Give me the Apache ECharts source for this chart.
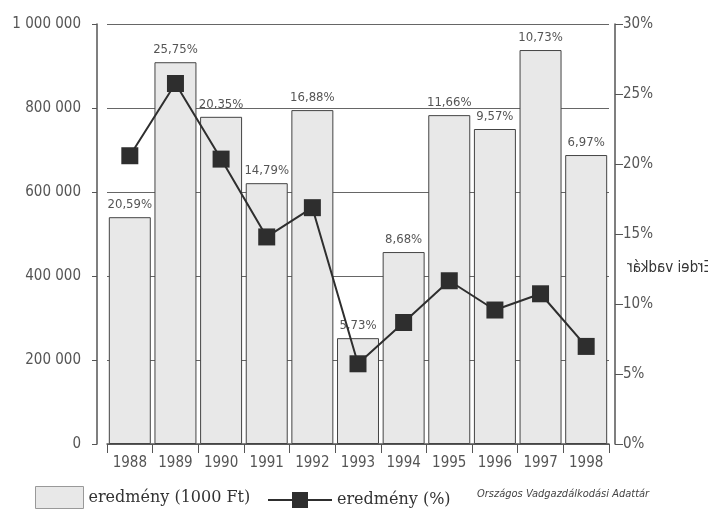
<!DOCTYPE html>
<html>
<head>
<meta charset="utf-8">
<script src="https://cdn.jsdelivr.net/npm/echarts@6/dist/echarts.min.js"></script>
<style>
  html, body { margin: 0; padding: 0; background: #fff; }
  #chart { width: 708px; height: 514px; }
</style>
</head>
<body>
<div id="chart"></div>
<script>
// eredmény adatok, 1988-1998
const years = ['1988', '1989', '1990', '1991', '1992', '1993', '1994', '1995', '1996', '1997', '1998']
const eredmenyFt = [540000, 909000, 779000, 621000, 795000, 252000, 457000, 783000, 750000, 938000, 688000]
const eredmenyPct = [20.59, 25.75, 20.35, 14.79, 16.88, 5.73, 8.68, 11.66, 9.57, 10.73, 6.97]
const pctTicks = [0, 5, 10, 15, 20, 25, 30]

const font = '"DejaVu Sans Condensed", "Liberation Sans Narrow", sans-serif'
const grey = '#555'

const chart = echarts.init(document.getElementById('chart'))

const option = {
  animation: false,
  backgroundColor: '#fff',
  textStyle: { fontFamily: font },
  grid: { left: 107, right: 99, top: 24, bottom: 70 },
  legend: [{
    data: ['eredmény (1000 Ft)'],
    icon: 'rect',
    left: 30,
    bottom: 0,
    itemWidth: 48,
    itemHeight: 22,
    itemGap: 5,
    itemStyle: { borderColor: '#999', borderWidth: 1 },
    textStyle: { fontFamily: '"DejaVu Serif", serif', fontSize: 16, color: '#333' }
  }, {
    data: ['eredmény (%)'],
    left: 262,
    bottom: 1,
    itemWidth: 64,
    itemHeight: 20,
    itemGap: 6,
    textStyle: { fontFamily: '"DejaVu Serif", serif', fontSize: 16, color: '#333' }
  }],
  xAxis: {
    type: 'category',
    data: years,
    axisLine: { lineStyle: { color: grey, width: 1.5 } },
    axisTick: { show: true, length: 9, lineStyle: { color: grey } },
    axisLabel: { color: grey, fontSize: 15, margin: 12 }
  },
  yAxis: [{
    type: 'value',
    min: 0,
    max: 1000000,
    interval: 200000,
    offset: 10,
    axisLine: { show: true, lineStyle: { color: grey, width: 1.5 } },
    axisTick: { show: true, length: 5, lineStyle: { color: grey } },
    axisLabel: {
      color: grey,
      fontSize: 15,
      margin: 16,
      formatter: v => String(v).replace(/\B(?=(\d{3})+(?!\d))/g, ' ')
    },
    splitLine: { show: true, lineStyle: { color: '#666', width: 1 } }
  }, {
    type: 'value',
    min: pctTicks[0],
    max: pctTicks[pctTicks.length - 1],
    interval: 5,
    position: 'right',
    offset: 6,
    axisLine: { show: true, lineStyle: { color: grey, width: 1.5 } },
    axisTick: { show: true, length: 8, lineStyle: { color: grey } },
    axisLabel: { color: grey, fontSize: 15, margin: 8, formatter: '{value}%' },
    splitLine: { show: false }
  }],
  series: [{
    name: 'eredmény (1000 Ft)',
    type: 'bar',
    data: eredmenyFt,
    barWidth: '92%',
    itemStyle: { color: '#e8e8e8', borderColor: '#444', borderWidth: 1 },
    label: {
      show: true,
      position: 'top',
      distance: 6,
      color: grey,
      fontSize: 13,
      formatter: p => eredmenyPct[p.dataIndex].toFixed(2).replace('.', ',') + '%'
    },
    z: 2
  }, {
    name: 'eredmény (%)',
    type: 'line',
    yAxisIndex: 1,
    data: eredmenyPct,
    symbol: 'rect',
    symbolSize: 17,
    lineStyle: { color: '#2e2e2e', width: 2 },
    itemStyle: { color: '#2e2e2e' },
    z: 5
  }],
  graphic: [{
    type: 'text',
    left: 477,
    bottom: 14,
    style: {
      text: 'Országos Vadgazdálkodási Adattár',
      font: 'italic 11px "DejaVu Sans Condensed", sans-serif',
      fill: '#444'
    }
  }, {
    type: 'text',
    x: 712,
    y: 268,
    scaleX: -1,
    style: {
      text: 'Erdei vadkár',
      font: '15px "DejaVu Sans Condensed", sans-serif',
      fill: '#333',
      textVerticalAlign: 'middle'
    }
  }]
}

chart.setOption(option)
</script>
</body>
</html>
